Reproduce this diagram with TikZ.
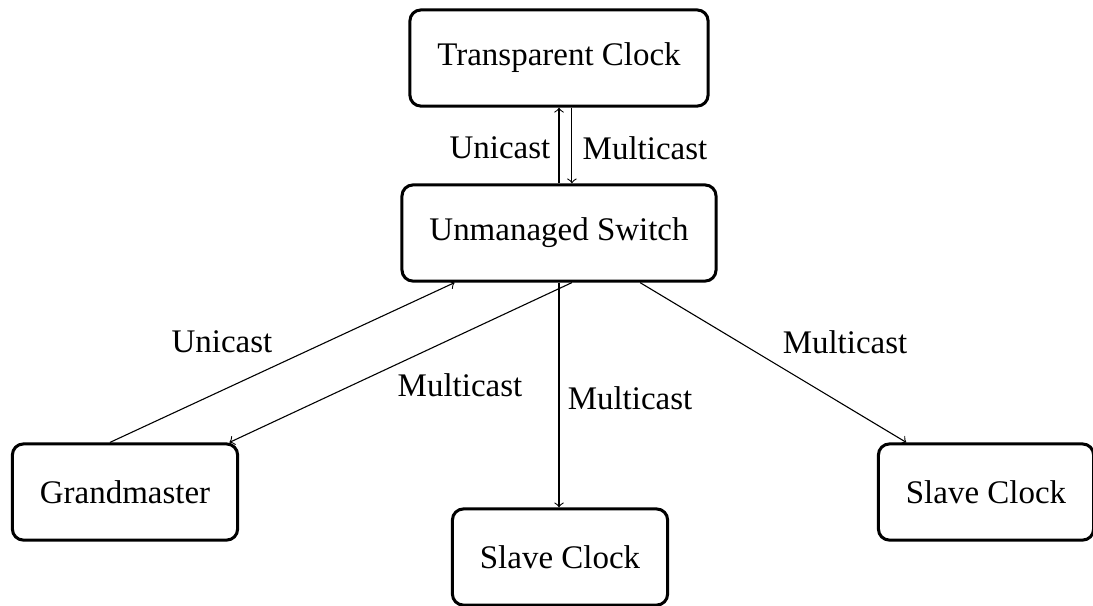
\documentclass[tikz,border=0pt]{standalone}
\usepackage{fontspec}
\setmainfont{Liberation Serif}
\usepackage{tikz}

\tikzset{
  clockbox/.style={draw, line width=1.1pt, rounded corners=4pt, inner xsep=10pt,
    minimum height=35pt, font=\fontsize{12}{14}\selectfont},
  castlabel/.style={font=\fontsize{12}{14}\selectfont}
}

\begin{document}
\begin{tikzpicture}[x=0.364pt, y=-0.364pt]
\useasboundingbox (0,0) rectangle (1093,605);

% boxes
\node[clockbox] (tc) at (559,58) {Transparent Clock};
\node[clockbox] (us) at (559,233) {Unmanaged Switch};
\node[clockbox] (gm) at (125,492) {Grandmaster};
\node[clockbox] (scmid) at (560,557) {Slave Clock};
\node[clockbox] (scright) at (986,492) {Slave Clock};

% switch <-> transparent clock
\draw[->] (us.north) -- (tc.south);
\draw[->] ([xshift=4.7pt]tc.south) -- ([xshift=4.7pt]us.north);
\node[castlabel] (tcuni) at (500,148) {Unicast};
\node[castlabel] (tcmulti) at (645,148) {Multicast};

% grandmaster
\draw[->] ([xshift=-5.5pt]gm.north) -- ([xshift=-38pt]us.south);
\draw[->] ([xshift=4.7pt]us.south) -- ([xshift=38pt]gm.north);
\node[castlabel] (gmuni) at (222,342) {Unicast};
\node[castlabel] (gmmulti) at (460,385) {Multicast};

% slave clocks
\draw[->] (us.south) -- (us.south |- scmid.north);
\node[castlabel] (midmulti) at (630,398) {Multicast};
\draw[->] ([xshift=29.5pt]us.south) -- ([xshift=-29pt]scright.north);
\node[castlabel] (rightmulti) at (845,342) {Multicast};
\end{tikzpicture}
\end{document}
